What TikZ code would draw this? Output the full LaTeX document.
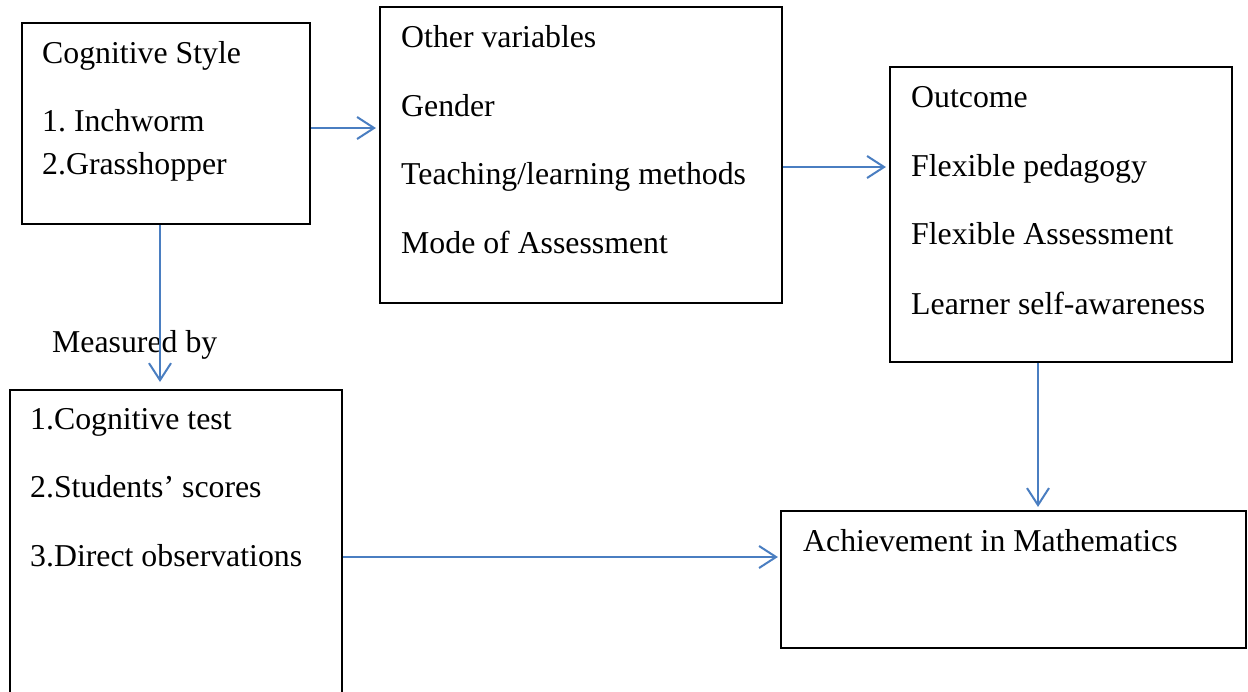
\documentclass[tikz,border=0pt]{standalone}
\usepackage{fontspec}
\setmainfont{Liberation Serif}
\usetikzlibrary{arrows.meta}
\definecolor{arrowblue}{RGB}{74,126,193}
\frenchspacing
\tikzset{
  box/.style={draw=black, line width=2.2pt, inner sep=0pt},
  txt/.style={anchor=base west, inner sep=0pt, font=\fontsize{31.8}{36}\selectfont},
  conn/.style={draw=arrowblue, line width=2pt, -{Straight Barb[length=17pt,width=22pt,line width=2pt]}}
}
\begin{document}
\begin{tikzpicture}[x=1pt,y=-1pt]
\useasboundingbox (0,0) rectangle (1248,691);
\clip (0,0) rectangle (1248,691);
\fill[white] (0,0) rectangle (1248,691);
% boxes
\node[box, minimum width=288pt, minimum height=201pt] (A) at (166,123.5) {};
\node[box, minimum width=402pt, minimum height=296pt] (B) at (581,155) {};
\node[box, minimum width=342pt, minimum height=295pt] (C) at (1061,214.5) {};
\node[box, minimum width=332pt, minimum height=312pt] (D) at (176,546) {};
\node[box, minimum width=465pt, minimum height=137pt] (E) at (1013.5,579.5) {};
% texts
\node[txt] (a1) at (42,63) {Cognitive Style};
\node[txt] (a2) at (42,131) {1. Inchworm};
\node[txt] (a3) at (42,174) {2.Grasshopper};
\node[txt] (b1) at (401,47) {Other variables};
\node[txt] (b2) at (401,116) {Gender};
\node[txt] (b3) at (401,184) {Teaching/learning methods};
\node[txt] (b4) at (401,253) {Mode of Assessment};
\node[txt] (c1) at (911,107) {Outcome};
\node[txt] (c2) at (911,176) {Flexible pedagogy};
\node[txt] (c3) at (911,244) {Flexible Assessment};
\node[txt] (c4) at (911,314) {Learner self-awareness};
\node[txt] (m) at (52,352) {Measured by};
\node[txt] (d1) at (30,429) {1.Cognitive test};
\node[txt] (d2) at (30,497) {2.Students’ scores};
\node[txt] (d3) at (30,566) {3.Direct observations};
\node[txt] (e1) at (803,551) {Achievement in Mathematics};
% connectors
\coordinate (ab) at (0,128);
\coordinate (bc) at (0,167);
\coordinate (de) at (0,557);
\coordinate (ad) at (160,382);
\coordinate (ce) at (1038,0);
\draw[conn, shorten >=3pt] (A.east |- ab) -- (B.west |- ab);
\draw[conn, shorten >=3pt] (B.east |- bc) -- (C.west |- bc);
\draw[conn] (A.south -| ad) -- (ad);
\draw[conn, shorten >=3pt] (C.south -| ce) -- (E.north -| ce);
\draw[conn, shorten >=2pt] (D.east |- de) -- (E.west |- de);
\end{tikzpicture}
\end{document}
